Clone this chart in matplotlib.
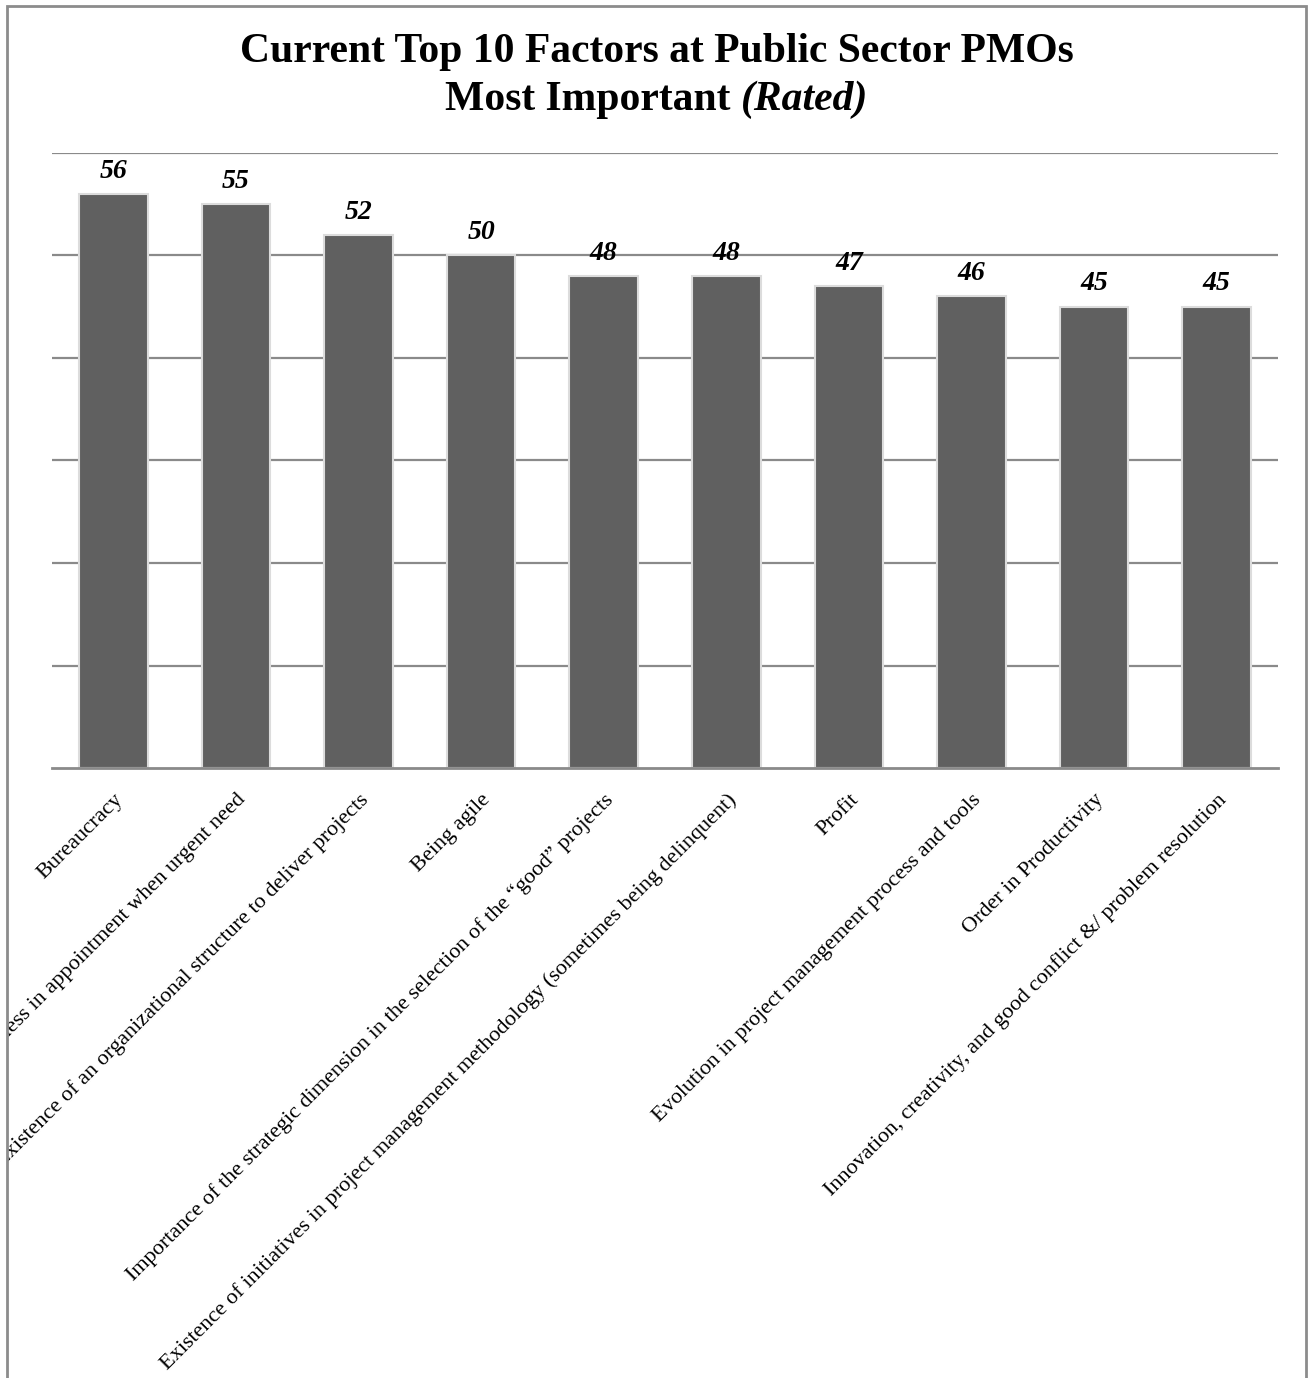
import numpy as np
import matplotlib
matplotlib.use('Agg')
import matplotlib.pyplot as plt
from matplotlib.patches import Rectangle
from matplotlib.transforms import Bbox, TransformedBbox

# data
factors = [
    'Bureaucracy',
    'Slowness in appointment when urgent need',
    'Existence of an organizational structure to deliver projects',
    'Being agile',
    'Importance of the strategic dimension in the selection of the \u201cgood\u201d projects',
    'Existence of initiatives in project management methodology (sometimes being delinquent)',
    'Profit',
    'Evolution in project management process and tools',
    'Order in Productivity',
    'Innovation, creativity, and good conflict &/ problem resolution',
]
scores = [56, 55, 52, 50, 48, 48, 47, 46, 45, 45]

W, H = 1314, 1378
plt.rcParams['font.family'] = ['Liberation Serif', 'DejaVu Serif']

fig = plt.figure(figsize=(W/100, H/100), dpi=100)
ax = fig.add_axes([52/W, 1-768/H, (1278-52)/W, (768-153)/H])

x = np.arange(len(factors))
bars = ax.bar(x, scores, width=0.56, color='#606060', edgecolor='#dcdcdc',
              linewidth=1.5, zorder=2)

for xi, v in zip(x, scores):
    ax.text(xi, v + 1.0, str(v), ha='center', va='bottom', fontsize=20,
            fontweight='bold', fontstyle='italic', zorder=4)

ax.set_xlim(-0.5, len(factors) - 0.5)
ax.set_ylim(0, 60)
ax.set_yticks(np.arange(10, 61, 10))
ax.yaxis.grid(True, color='#8a8a8a', linewidth=1.6, zorder=1)
ax.set_axisbelow(True)
ax.tick_params(axis='y', length=0, labelleft=False)
ax.tick_params(axis='x', length=0, pad=16)
for s in ['left', 'right', 'top']:
    ax.spines[s].set_visible(False)
ax.spines['bottom'].set_color('#8a8a8a')
ax.spines['bottom'].set_linewidth(2)

ax.set_xticks(x, factors, rotation=45, ha='right', va='top',
              rotation_mode='anchor', fontsize=16)

# labels get cut at the chart frame like in the original
clip = TransformedBbox(Bbox.from_extents(8/W, 0, 1, 1), fig.transFigure)
for lab in ax.get_xticklabels():
    lab.set_clip_on(True)
    lab.set_clip_box(clip)

# frame around the chart
fig.patches.append(Rectangle((7/W, -0.05), (1306-7)/W, 1.05 - 6/H,
                             transform=fig.transFigure, fill=False,
                             edgecolor='#8c8c8c', linewidth=2))

# title, second line has an italic part
fig.text(0.5, 1-52/H, 'Current Top 10 Factors at Public Sector PMOs',
         ha='center', va='center', fontsize=30, fontweight='bold')
t1 = fig.text(0, 1-100/H, 'Most Important ', ha='left', va='center',
              fontsize=30, fontweight='bold')
t2 = fig.text(0, 1-100/H, '(Rated)', ha='left', va='center',
              fontsize=30, fontweight='bold', fontstyle='italic')
fig.canvas.draw()
r = fig.canvas.get_renderer()
w1 = t1.get_window_extent(r).width
w2 = t2.get_window_extent(r).width
x0 = (W - w1 - w2) / 2
t1.set_x(x0 / W)
t2.set_x((x0 + w1) / W)

fig.savefig('out.png', dpi=100)
